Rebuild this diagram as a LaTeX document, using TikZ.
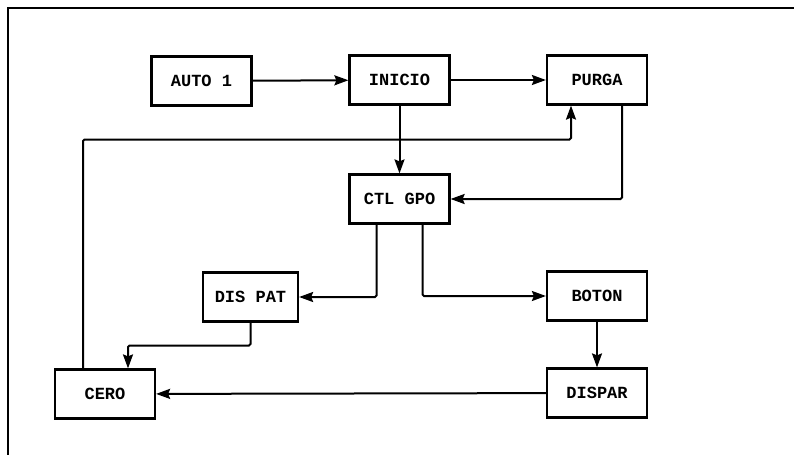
\documentclass[tikz,border=0pt]{standalone}
\usepackage{fontspec}
\setmonofont{Liberation Mono}
\usetikzlibrary{arrows.meta,positioning,calc}

\begin{document}
\begin{tikzpicture}[x=1pt,y=-1pt,>={Stealth[length=14pt,width=10pt,inset=2pt]},
    blk/.style={draw,line width=2.2pt,minimum width=100pt,minimum height=49pt,
      inner sep=0pt,font=\ttfamily\bfseries\fontsize{17}{19}\selectfont},
    flow/.style={->,line width=2pt,rounded corners=1.5pt}]
  \useasboundingbox (0,0) rectangle (794,463);

  % Frame (top and left edges only).
  \draw[line width=1.8pt] (794,8) -- (8,8) -- (8,455);

  % Blocks.
  \node[blk] (auto)   at (201.5,81)  {AUTO 1};
  \node[blk] (inicio) at (399.5,80)  {INICIO};
  \node[blk] (purga)  at (597,80)    {PURGA};
  \node[blk] (ctl)    at (399.5,199) {CTL GPO};
  \node[blk,minimum width=95pt] (dispat) at (250.5,297) {DIS PAT};
  \node[blk] (boton)  at (597,296)   {BOTON};
  \node[blk] (cero)   at (105,394)   {CERO};
  \node[blk] (dispar) at (597,393)   {DISPAR};

  % Connections.
  \draw[flow] (auto) -- (inicio);
  \draw[flow] (inicio) -- (purga);
  \draw[flow] (inicio) -- (ctl);
  \draw[flow] ([xshift=25pt]purga.south) |- (ctl);
  \draw[flow] ([xshift=-22pt]cero.north)
    |- ($(inicio.south)!.5!(ctl.north)$) -| ([xshift=-26pt]purga.south);
  \draw[flow] ([xshift=-23pt]ctl.south) |- (dispat);
  \draw[flow] ([xshift=23pt]ctl.south) |- (boton);
  \draw[flow] (dispat.south)
    |- ($(dispat.south)!.5!([xshift=23pt]cero.north)$) -| ([xshift=23pt]cero.north);
  \draw[flow] (boton) -- (dispar);
  \draw[flow] (dispar) -- (cero);
\end{tikzpicture}
\end{document}
